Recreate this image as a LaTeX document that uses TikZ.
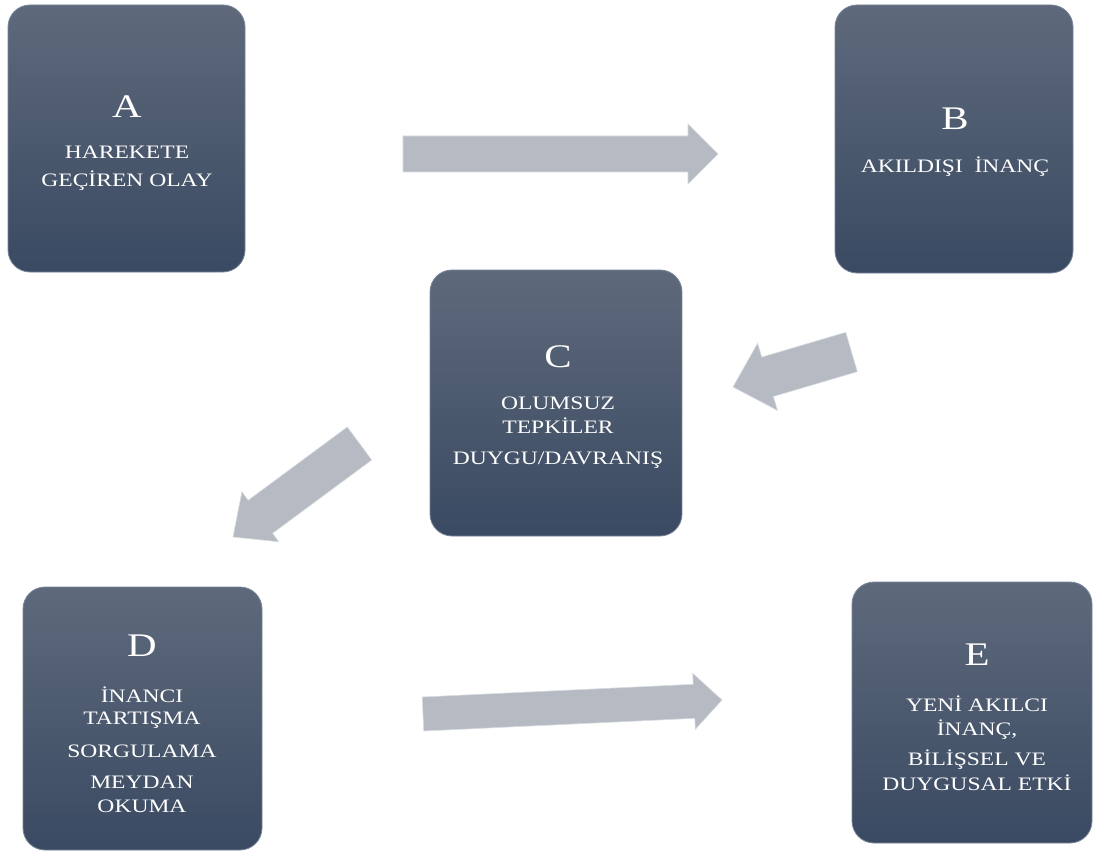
\documentclass[tikz,border=0pt]{standalone}
\usepackage{fontspec}
\setmainfont[FakeStretch=1.24]{Liberation Serif}
\usetikzlibrary{calc}
\definecolor{boxtop}{RGB}{94,105,123}
\definecolor{boxbot}{RGB}{58,74,98}
\definecolor{boxedge}{RGB}{120,134,154}
\definecolor{arrowfill}{RGB}{182,186,194}
\definecolor{arrowhi}{RGB}{215,218,224}
\tikzset{
  panel/.style={rectangle, rounded corners=22pt, top color=boxtop, bottom color=boxbot,
    draw=boxedge, line width=0.8pt, inner sep=0pt},
  bigletter/.style={anchor=base, text=white, font=\fontsize{33}{36}\selectfont, inner sep=0pt},
  bodyline/.style={anchor=base, text=white, font=\fontsize{19}{23}\selectfont, inner sep=0pt},
  blockarrow/.style={fill=arrowfill, draw=arrowhi, line width=0.6pt, line join=miter}
}
% block arrow from tail #1 to tip #2, shaft half width #3, head half width #4, head length #5
\newcommand\blockarr[5]{%
  \path[blockarrow]
    ($(#1)!#3!90:(#2)$) --
    ($($(#2)!#5!(#1)$)!#3!90:(#2)$) --
    ($($(#2)!#5!(#1)$)!#4!90:(#2)$) --
    (#2) --
    ($($(#2)!#5!(#1)$)!#4!-90:(#2)$) --
    ($($(#2)!#5!(#1)$)!#3!-90:(#2)$) --
    ($(#1)!#3!-90:(#2)$) -- cycle;}
\begin{document}
\begin{tikzpicture}[x=1pt,y=-1pt]
\useasboundingbox (0,0) rectangle (1097,853);
\fill[white] (0,0) rectangle (1097,853);

% boxes
\node[panel, minimum width=237pt, minimum height=267pt] (A) at (126.5,138.5) {};
\node[panel, minimum width=238pt, minimum height=268pt] (B) at (954,139) {};
\node[panel, minimum width=252pt, minimum height=266pt] (C) at (556,403) {};
\node[panel, minimum width=239pt, minimum height=263pt] (D) at (142.5,718.5) {};
\node[panel, minimum width=240pt, minimum height=261pt] (E) at (972,712.5) {};

% texts A
\node[bigletter] (Aletter) at (127,118) {A};
\node[bodyline] (A1) at (127,159) {HAREKETE};
\node[bodyline] (A2) at (127,186) {GEÇİREN OLAY};
% B
\node[bigletter] (Bletter) at (955,130) {B};
\node[bodyline] (B1) at (955,173) {AKILDIŞI\ \ İNANÇ};
% C
\node[bigletter] (Cletter) at (558,367) {C};
\node[bodyline] (C1) at (558,409) {OLUMSUZ};
\node[bodyline] (C2) at (558,433) {TEPKİLER};
\node[bodyline] (C3) at (558,464) {DUYGU/DAVRANIŞ};
% D
\node[bigletter] (Dletter) at (142,656) {D};
\node[bodyline] (D1) at (142,702) {İNANCI};
\node[bodyline] (D2) at (142,724) {TARTIŞMA};
\node[bodyline] (D3) at (142,757) {SORGULAMA};
\node[bodyline] (D4) at (142,788) {MEYDAN};
\node[bodyline] (D5) at (142,812) {OKUMA};
% E
\node[bigletter] (Eletter) at (977,665) {E};
\node[bodyline] (E1) at (977,711) {YENİ AKILCI};
\node[bodyline] (E2) at (977,735) {İNANÇ,};
\node[bodyline] (E3) at (977,765) {BİLİŞSEL VE};
\node[bodyline] (E4) at (977,790) {DUYGUSAL ETKİ};

% arrow end points
\coordinate (t1) at (403,154);   \coordinate (h1) at (718,154);
\coordinate (t2) at (851.5,352); \coordinate (h2) at (733,387);
\coordinate (t3) at (359.5,443.5); \coordinate (h3) at (233,537);
\coordinate (t4) at (423,714);   \coordinate (h4) at (722,700);

\blockarr{t1}{h1}{18pt}{30pt}{30pt}
\blockarr{t2}{h2}{20.5pt}{35pt}{36pt}
\blockarr{t3}{h3}{20.5pt}{31pt}{34pt}
\blockarr{t4}{h4}{17pt}{28pt}{28pt}
\end{tikzpicture}
\end{document}
